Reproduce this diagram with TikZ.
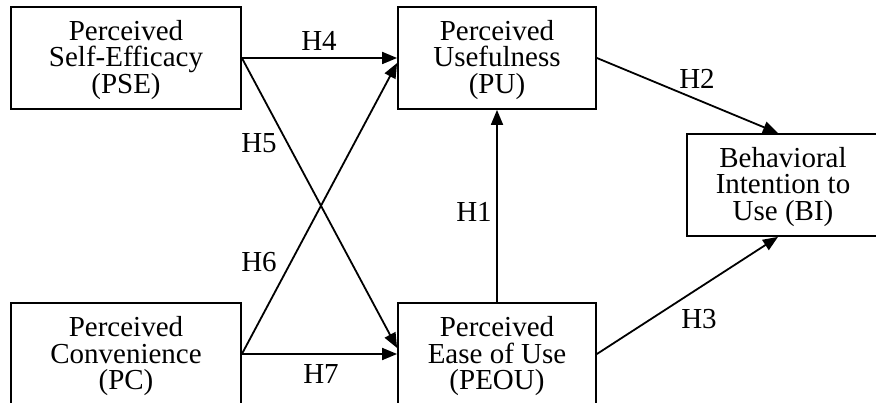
\documentclass[tikz,border=0pt]{standalone}
\usepackage{fontspec}
\setmainfont{Liberation Serif}
\usetikzlibrary{arrows.meta,calc}
\begin{document}
\begin{tikzpicture}[x=1pt,y=1pt,
  txt/.style={font=\fontsize{29}{26.5}\selectfont},
  box/.style={txt,draw,line width=1.8pt,minimum height=102pt,align=center,
    inner sep=0pt,text height=77pt,text depth=6pt},
  link/.style={line width=1.8pt,-{Triangle[length=15pt,width=12pt]}},
  hyp/.style={txt,inner sep=0pt}]
\useasboundingbox (0,0) rectangle (876,-403);
\clip (0,0) rectangle (876,-403);

% constructs
\node[box,minimum width=230pt] (pse)  at (126,-58)  {Perceived\\Self-Efficacy\\(PSE)};
\node[box,minimum width=230pt] (pc)   at (126,-354) {Perceived\\Convenience\\(PC)};
\node[box,minimum width=198pt] (pu)   at (497,-58)  {Perceived\\Usefulness\\(PU)};
\node[box,minimum width=198pt] (peou) at (497,-354) {Perceived\\Ease of Use\\(PEOU)};
\node[box,minimum width=192pt] (bi)   at (783,-185) {Behavioral\\Intention to\\Use (BI)};

% hypothesised paths
\draw[link] (pse.east) -- (pu.west);
\draw[link] (pse.east) -- ($(peou.west)+(0,6)$);
\draw[link] (pc.east) -- ($(pu.west)+(0,-5)$);
\draw[link] (pc.east) -- (peou.west);
\draw[link] (peou.north) -- (pu.south);
\draw[link] (pu.east) -- ($(bi.north)+(-5,0)$);
\draw[link] (peou.east) -- ($(bi.south)+(-5,0)$);

% path labels
\node[hyp] (h4) at (319,-41)  {H4};
\node[hyp] (h5) at (259,-143) {H5};
\node[hyp] (h6) at (259,-262) {H6};
\node[hyp] (h7) at (321,-374) {H7};
\node[hyp] (h1) at (474,-212) {H1};
\node[hyp] (h2) at (697,-79)  {H2};
\node[hyp] (h3) at (699,-319) {H3};
\end{tikzpicture}
\end{document}
